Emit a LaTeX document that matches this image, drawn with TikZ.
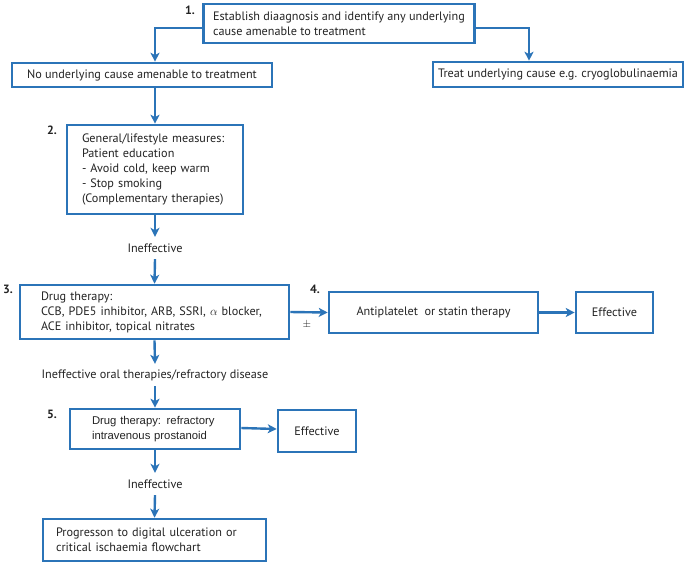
\documentclass[tikz,border=0pt]{standalone}
\usepackage{fontspec}
\setmainfont{PT Sans}
\newfontfamily\arialf{Liberation Sans}
\usetikzlibrary{arrows.meta}
\definecolor{fblue}{RGB}{43,116,184}
\definecolor{ftext}{RGB}{35,35,35}
\tikzset{
  box/.style={draw=fblue, line width=2.6pt, rectangle, text=ftext, font=\fontsize{12.2}{15}\selectfont},
  lbl/.style={text=ftext, font=\fontsize{12.2}{15}\selectfont, minimum height=22pt, inner sep=0pt},
  num/.style={text=ftext, font=\fontsize{12}{14}\selectfont\bfseries, inner sep=0pt},
  arr/.style={draw=fblue, line width=2.4pt, -{Stealth[length=9pt,width=9pt,inset=2.5pt]}},
}
\begin{document}
\begin{tikzpicture}[x=1pt,y=-1pt]
\useasboundingbox[fill=white] (0,0) rectangle (698,563);
% boxes
\node[box, minimum width=271pt, minimum height=39pt, inner xsep=0pt, align=left] (B1) at (339,23.5)
  {Establish diaagnosis and identify any underlying\\cause amenable to treatment};
\node[box, minimum width=260pt, minimum height=24pt, inner sep=0pt] (Bno) at (142,75)
  {No underlying cause amenable to treatment};
\node[box, minimum width=250pt, minimum height=25pt, inner sep=0pt] (Btreat) at (558,74.5)
  {Treat underlying cause e.g. cryoglobulinaemia};
\node[box, minimum height=89pt, text width=146pt, inner xsep=15pt, align=left] (B2) at (155,169.5)
  {General/lifestyle measures:\\Patient education\\- Avoid cold, keep warm\\- Stop smoking\\(Complementary therapies)};
\node[box, minimum height=54pt, text width=227pt, inner xsep=21pt, align=left] (B3) at (154.5,312)
  {Drug therapy:\\CCB, PDE5 inhibitor, ARB, SSRI, $\alpha$ blocker,\\ACE inhibitor, topical nitrates};
\node[box, minimum width=209pt, minimum height=41pt, inner sep=0pt] (B4) at (433.5,312.5)
  {Antiplatelet\ \ or statin therapy};
\node[box, minimum width=77pt, minimum height=41pt, inner sep=0pt] (E1) at (614.5,312.5)
  {Effective};
\node[box, minimum height=40pt, text width=126pt, inner xsep=22pt, align=left, font=\arialf\fontsize{11.3}{15}\selectfont] (B5) at (155,429)
  {Drug therapy: refractory\\intravenous prostanoid};
\node[box, minimum width=78pt, minimum height=42pt, inner sep=0pt] (E2) at (317,431)
  {Effective};
\node[box, minimum height=42pt, text width=197pt, inner xsep=13pt, align=left] (B6) at (154.5,540)
  {Progresson to digital ulceration or\\critical ischaemia flowchart};
% labels
\node[lbl] (I1) at (155,248) {Ineffective};
\node[lbl] (I2) at (155,375) {Ineffective oral therapies/refractory disease};
\node[lbl] (I3) at (155,484) {Ineffective};
\node[text=ftext, font=\fontsize{11}{13}\selectfont, inner sep=0pt] (pm) at (307,325) {$\pm$};
% numbers
\node[num] (n1) at (190,10) {1.};
\node[num] (n2) at (52,130) {2.};
\node[num] (n3) at (8,289) {3.};
\node[num] (n4) at (315,289) {4.};
\node[num] (n5) at (52,414) {5.};
% connectors
\draw[arr] ([yshift=-4.5pt]B1.west) -| ([xshift=13pt]Bno.north);
\draw[arr] ([yshift=-4.5pt]B1.east) -| ([xshift=-29pt]Btreat.north);
\draw[arr] (B2.north |- Bno.south) -- (B2.north);
\draw[arr] (B2.south) -- (I1.north);
\draw[arr] (I1.south) -- (B3.north);
\draw[arr] (B3.east) -- (B4.west);
\draw[arr] (B4.east) -- (E1.west);
\draw[arr] (B3.south) -- (I2.north);
\draw[arr] (I2.south) -- (B5.north);
\draw[arr] ([yshift=1pt]B5.east) -- (B5.east -| E2.west);
\draw[arr] (B5.south) -- (I3.north);
\draw[arr] (I3.south) -- (B6.north);
\end{tikzpicture}
\end{document}
